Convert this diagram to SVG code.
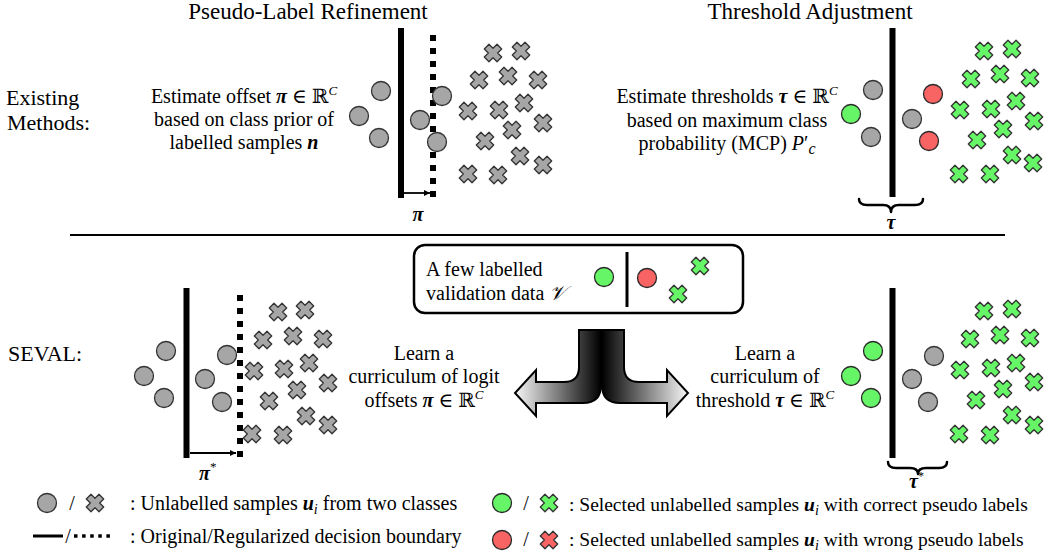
<svg xmlns="http://www.w3.org/2000/svg" width="1044" height="552" viewBox="0 0 1044 552">
<style>
.t{font-family:"Liberation Serif","DejaVu Serif",serif;font-size:20px;fill:#000}
.ttl{font-size:23px}
.hd{font-size:22px}
.lg{font-size:19.5px}
.bi{font-weight:bold;font-style:italic}
.it{font-style:italic}
.g{fill:#a6a6a6;stroke:#333;stroke-width:1.3}
.gr{fill:#66f566;stroke:#2a2a2a;stroke-width:1.3}
.rd{fill:#f86464;stroke:#2a2a2a;stroke-width:1.3}
.bd{stroke:#000;stroke-width:6;fill:none}
.dt{stroke:#000;stroke-width:6;stroke-dasharray:6 7;fill:none}
.br{stroke:#000;stroke-width:2.5;fill:none;stroke-linecap:round;stroke-linejoin:round}
</style>
<defs>
<path id="x" transform="rotate(45)" stroke-width="1.3" stroke="#333" stroke-linejoin="round" d="M-3.3,-9 H3.3 V-3.3 H9 V3.3 H3.3 V9 H-3.3 V3.3 H-9 V-3.3 H-3.3 Z"/>
<linearGradient id="gl" gradientUnits="userSpaceOnUse" x1="515" y1="0" x2="601" y2="0">
<stop offset="0" stop-color="#f7f7f7"/><stop offset="0.55" stop-color="#707070"/><stop offset="1" stop-color="#000"/>
</linearGradient>
<linearGradient id="gr" gradientUnits="userSpaceOnUse" x1="688" y1="0" x2="602" y2="0">
<stop offset="0" stop-color="#f7f7f7"/><stop offset="0.55" stop-color="#707070"/><stop offset="1" stop-color="#000"/>
</linearGradient>
<marker id="ah" viewBox="0 0 10 10" refX="10" refY="5" markerWidth="6" markerHeight="6" markerUnits="userSpaceOnUse" orient="auto">
<path d="M0,0 L10,5 L0,10 Z" fill="#000"/>
</marker>
</defs>

<g id="headings">
<text class="t ttl" x="308" y="19" text-anchor="middle">Pseudo-Label Refinement</text>
<text class="t ttl" x="810" y="19" text-anchor="middle">Threshold Adjustment</text>
<text class="t hd" x="6" y="105">Existing</text>
<text class="t hd" x="7" y="130">Methods:</text>
<text class="t hd" x="8" y="361">SEVAL:</text>
</g>

<line x1="70" y1="235" x2="1005" y2="235" stroke="#000" stroke-width="2"/>

<g id="existing-pseudo-label">
<text class="t" x="244" y="103" text-anchor="middle">Estimate offset <tspan class="bi">π</tspan> ∈ ℝ<tspan class="it" font-size="13" dy="-8">C</tspan></text>
<text class="t" x="244" y="126" text-anchor="middle">based on class prior of</text>
<text class="t" x="244" y="149" text-anchor="middle">labelled samples <tspan class="bi">n</tspan></text>
<line class="bd" x1="401" y1="28" x2="401" y2="198"/>
<line class="dt" x1="433" y1="35" x2="433" y2="198"/>
<circle class="g" cx="381" cy="91" r="9.5"/>
<circle class="g" cx="359" cy="116" r="9.5"/>
<circle class="g" cx="379" cy="138" r="9.5"/>
<circle class="g" cx="420" cy="120" r="9.5"/>
<circle class="g" cx="442" cy="96" r="9.5"/>
<circle class="g" cx="437" cy="142" r="9.5"/>
<g fill="#a6a6a6">
<use href="#x" x="493" y="53"/><use href="#x" x="521" y="51"/>
<use href="#x" x="479" y="80"/><use href="#x" x="508" y="76"/><use href="#x" x="538" y="80"/>
<use href="#x" x="468" y="111"/><use href="#x" x="499" y="110"/><use href="#x" x="524" y="103"/>
<use href="#x" x="543" y="123"/><use href="#x" x="512" y="130"/><use href="#x" x="485" y="141"/>
<use href="#x" x="520" y="156"/><use href="#x" x="543" y="165"/><use href="#x" x="468" y="174"/><use href="#x" x="498" y="175"/>
</g>
<line x1="404" y1="193" x2="430" y2="193" stroke="#000" stroke-width="1.8" marker-end="url(#ah)"/>
<text class="t bi" x="418" y="221" text-anchor="middle">π</text>
</g>

<g id="existing-threshold">
<text class="t" x="727" y="103" text-anchor="middle">Estimate thresholds <tspan class="bi">τ</tspan> ∈ ℝ<tspan class="it" font-size="13" dy="-8">C</tspan></text>
<text class="t" x="727" y="127" text-anchor="middle">based on maximum class</text>
<text class="t" x="727" y="150" text-anchor="middle">probability (MCP) <tspan class="it">P</tspan>′<tspan class="it" font-size="16" dy="4">c</tspan></text>
<line class="bd" x1="892.5" y1="28" x2="892.5" y2="197"/>
<circle class="g" cx="873" cy="90" r="9.5"/>
<circle class="gr" cx="851" cy="114" r="9.5"/>
<circle class="g" cx="871" cy="137" r="9.5"/>
<circle class="g" cx="912" cy="119" r="9.5"/>
<circle class="rd" cx="933" cy="94" r="9.5"/>
<circle class="rd" cx="929" cy="141" r="9.5"/>
<g fill="#66f566">
<use href="#x" x="984" y="51"/><use href="#x" x="1012" y="49"/>
<use href="#x" x="971" y="79"/><use href="#x" x="1000" y="74"/><use href="#x" x="1030" y="78"/>
<use href="#x" x="960" y="110"/><use href="#x" x="991" y="109"/><use href="#x" x="1016" y="101"/>
<use href="#x" x="1034" y="121"/><use href="#x" x="1003" y="129"/><use href="#x" x="977" y="140"/>
<use href="#x" x="1012" y="155"/><use href="#x" x="1033" y="163"/><use href="#x" x="959" y="174"/><use href="#x" x="990" y="174"/>
</g>
<path class="br" d="M859,199 q0,6 8,6 h16 q8,0 8,7 q0,-7 8,-7 h16 q8,0 8,-6"/>
<text class="t bi" x="891" y="229" text-anchor="middle">τ</text>
</g>

<g id="validation-box">
<rect x="414" y="245" width="329" height="68" rx="11" fill="#fff" stroke="#000" stroke-width="2.5"/>
<text class="t" x="426" y="276">A few labelled</text>
<text class="t" x="426" y="300">validation data <tspan class="it">𝒱</tspan></text>
<circle class="gr" cx="604" cy="277" r="9.5"/>
<line x1="627" y1="252" x2="627" y2="307" stroke="#000" stroke-width="3"/>
<circle class="rd" cx="647" cy="278" r="9.5"/>
<g fill="#66f566"><use href="#x" x="700" y="266"/><use href="#x" x="678" y="294"/></g>
</g>

<g id="split-arrows">
<path d="M579,330 V367 Q579,382 564,382 H536 V370 L515,393 L536,416 V403 H583 Q601,403 601,385 V330 Z" fill="url(#gl)" stroke="#000" stroke-width="2"/>
<path d="M624,330 V367 Q624,382 639,382 H667 V370 L688,393 L667,416 V403 H620 Q602,403 602,385 V330 Z" fill="url(#gr)" stroke="#000" stroke-width="2"/>
</g>

<g id="seval-labels">
<text class="t" x="424" y="360" text-anchor="middle">Learn a</text>
<text class="t" x="424" y="383" text-anchor="middle">curriculum of logit</text>
<text class="t" x="424" y="407" text-anchor="middle">offsets <tspan class="bi">π</tspan> ∈ ℝ<tspan class="it" font-size="13" dy="-8">C</tspan></text>
<text class="t" x="765" y="360" text-anchor="middle">Learn a</text>
<text class="t" x="765" y="383" text-anchor="middle">curriculum of</text>
<text class="t" x="765" y="407" text-anchor="middle">threshold <tspan class="bi">τ</tspan> ∈ ℝ<tspan class="it" font-size="13" dy="-8">C</tspan></text>
</g>

<g id="seval-pseudo-label">
<line class="bd" x1="186.5" y1="288" x2="186.5" y2="458"/>
<line class="dt" x1="240" y1="295" x2="240" y2="458"/>
<circle class="g" cx="166" cy="351" r="9.5"/>
<circle class="g" cx="144" cy="376" r="9.5"/>
<circle class="g" cx="164" cy="398" r="9.5"/>
<circle class="g" cx="205" cy="379" r="9.5"/>
<circle class="g" cx="227" cy="355" r="9.5"/>
<circle class="g" cx="222" cy="402" r="9.5"/>
<g fill="#a6a6a6">
<use href="#x" x="278" y="312"/><use href="#x" x="305" y="310"/>
<use href="#x" x="263" y="340"/><use href="#x" x="293" y="336"/><use href="#x" x="323" y="339"/>
<use href="#x" x="254" y="371"/><use href="#x" x="284" y="369"/><use href="#x" x="309" y="363"/>
<use href="#x" x="328" y="383"/><use href="#x" x="297" y="390"/><use href="#x" x="269" y="401"/>
<use href="#x" x="306" y="416"/><use href="#x" x="328" y="425"/><use href="#x" x="252" y="434"/><use href="#x" x="283" y="435"/>
</g>
<line x1="190" y1="453" x2="236" y2="453" stroke="#000" stroke-width="1.8" marker-end="url(#ah)"/>
<text class="t" x="199" y="480"><tspan class="bi">π</tspan><tspan font-size="13" dy="-9">*</tspan></text>
</g>

<g id="seval-threshold">
<line class="bd" x1="892.5" y1="288" x2="892.5" y2="458"/>
<circle class="gr" cx="873" cy="351" r="9.5"/>
<circle class="gr" cx="851" cy="376" r="9.5"/>
<circle class="gr" cx="871" cy="398" r="9.5"/>
<circle class="g" cx="934" cy="356" r="9.5"/>
<circle class="g" cx="912" cy="379" r="9.5"/>
<circle class="g" cx="928" cy="402" r="9.5"/>
<g fill="#66f566">
<use href="#x" x="984" y="311"/><use href="#x" x="1012" y="309"/>
<use href="#x" x="970" y="339"/><use href="#x" x="1000" y="335"/><use href="#x" x="1030" y="338"/>
<use href="#x" x="960" y="370"/><use href="#x" x="991" y="368"/><use href="#x" x="1016" y="363"/>
<use href="#x" x="1034" y="382"/><use href="#x" x="1003" y="389"/><use href="#x" x="976" y="400"/>
<use href="#x" x="1012" y="415"/><use href="#x" x="1034" y="425"/><use href="#x" x="959" y="434"/><use href="#x" x="990" y="435"/>
</g>
<path class="br" d="M888,462 q0,6 8,6 h14 q8,0 8,6 q0,-6 8,-6 h13 q8,0 8,-6"/>
<text class="t" x="909" y="488" font-size="19"><tspan class="bi">τ</tspan><tspan font-size="12" dy="-8">*</tspan></text>
</g>

<g id="legend">
<circle class="g" cx="47" cy="503" r="9.5"/>
<text class="t" x="72" y="510" text-anchor="middle">/</text>
<use href="#x" x="95" y="503" fill="#a6a6a6"/>
<text class="t" x="130" y="510">: Unlabelled samples <tspan class="bi">u</tspan><tspan class="it" font-size="14" dy="4">i</tspan><tspan dy="-4"> from two classes</tspan></text>
<line x1="33" y1="536" x2="63" y2="536" stroke="#000" stroke-width="3"/>
<text class="t" x="68" y="543" text-anchor="middle">/</text>
<line x1="74" y1="536" x2="110" y2="536" stroke="#000" stroke-width="3.5" stroke-dasharray="3.5 4.6"/>
<text class="t" x="130" y="543">: Original/Regularized decision boundary</text>

<circle class="gr" cx="502" cy="503" r="9.5"/>
<text class="t" x="526" y="510" text-anchor="middle">/</text>
<use href="#x" x="549" y="503" fill="#66f566"/>
<text class="t lg" x="569" y="511">: Selected unlabelled samples <tspan class="bi">u</tspan><tspan class="it" font-size="14" dy="4">i</tspan><tspan dy="-4"> with correct pseudo labels</tspan></text>
<circle class="rd" cx="502" cy="540" r="9.5"/>
<text class="t" x="526" y="546" text-anchor="middle">/</text>
<use href="#x" x="549" y="540" fill="#f86464"/>
<text class="t lg" x="569" y="546">: Selected unlabelled samples <tspan class="bi">u</tspan><tspan class="it" font-size="14" dy="4">i</tspan><tspan dy="-4"> with wrong pseudo labels</tspan></text>
</g>
</svg>
